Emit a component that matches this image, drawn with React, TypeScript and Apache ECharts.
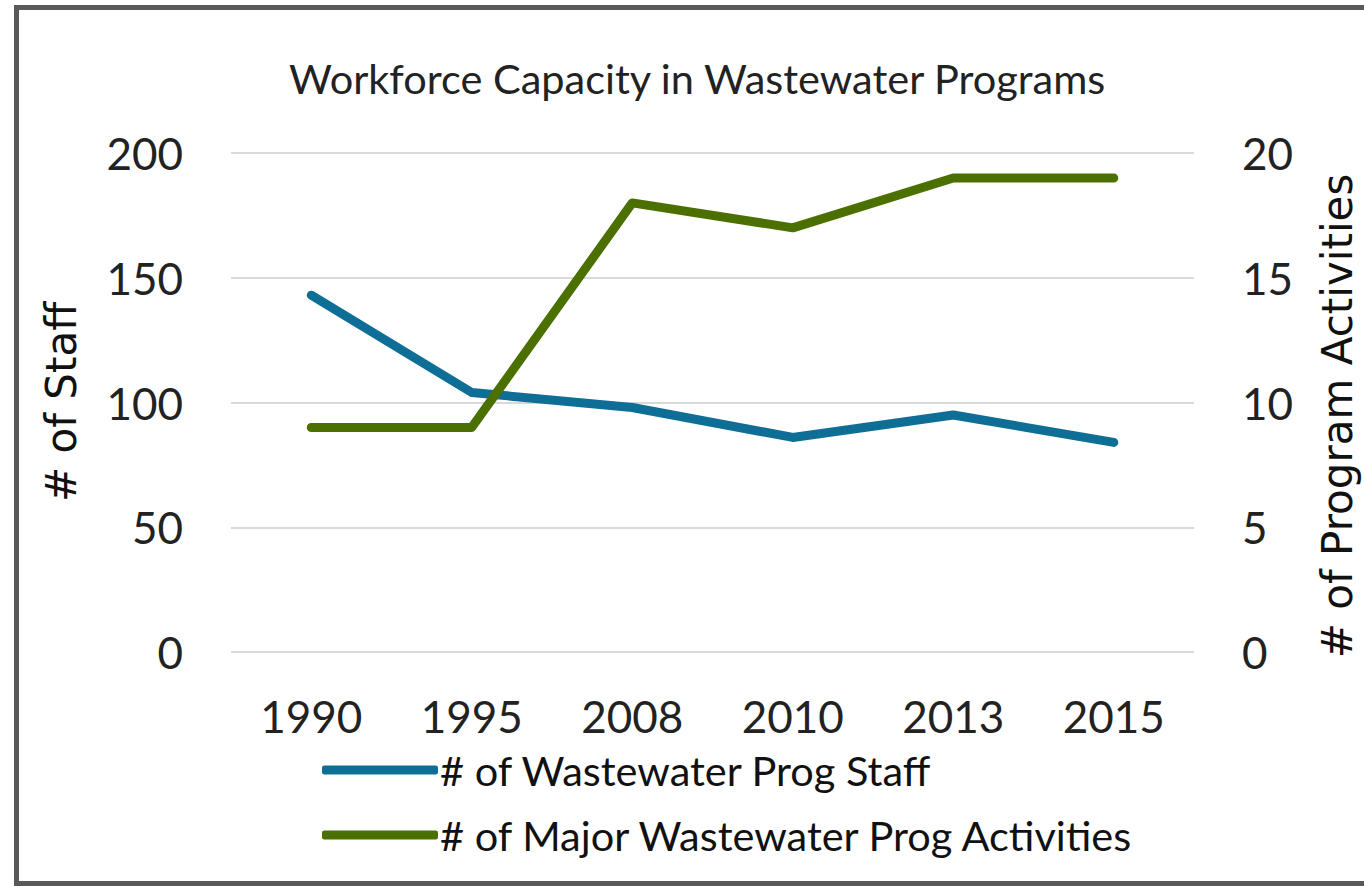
import React, { useEffect, useRef } from "react";
import * as echarts from "echarts";

const years = ["1990", "1995", "2008", "2010", "2013", "2015"];
const staff = [143, 104, 98, 86, 95, 84];
const activities = [9, 9, 18, 17, 19, 19];
const staffTicks = { min: 0, max: 200, interval: 50 };
const actTicks = { min: 0, max: 20, interval: 5 };
const leftAxisName = "# of Staff";
const rightAxisName = "# of Program Activities";
const seriesNames = ["# of Wastewater Prog Staff", "# of Major Wastewater Prog Activities"];

const FONT = "Lato";
const NAME_FONT = "DejaVu Sans";
const BLUE = "#0e6e96";
const GREEN = "#4b7000";

export default function App() {
  const ref = useRef<HTMLDivElement>(null);
  useEffect(() => {
    const chart = echarts.init(ref.current!, null, { renderer: "svg" });
    chart.setOption({
      animation: false,
      backgroundColor: "#ffffff",
      textStyle: { fontFamily: FONT },
      title: {
        text: "Workforce Capacity in Wastewater Programs",
        left: 284,
        top: 52,
        textStyle: { fontFamily: FONT, fontSize: 41.5, fontWeight: "normal", color: "#222" },
      },
      graphic: [
        {
          type: "rect",
          shape: { x: 16.5, y: 7.5, width: 1420, height: 876 },
          style: { fill: "none", stroke: "#595959", lineWidth: 5 },
          z: 100,
        },
        {
          type: "text",
          x: 61,
          y: 402,
          rotation: Math.PI / 2,
          style: {
            text: leftAxisName,
            fontFamily: NAME_FONT,
            fontSize: 42,
            fill: "#111",
            align: "center",
            verticalAlign: "middle",
          },
        },
        {
          type: "text",
          x: 1337,
          y: 416,
          rotation: Math.PI / 2,
          style: {
            text: rightAxisName,
            fontFamily: NAME_FONT,
            fontSize: 42,
            fill: "#111",
            align: "center",
            verticalAlign: "middle",
          },
        },
      ],
      grid: { left: 231, right: 170, top: 153, bottom: 234, containLabel: false },
      legend: {
        orient: "vertical",
        left: 317,
        top: 744,
        itemWidth: 116,
        itemHeight: 9,
        itemGap: 23,
        icon: "roundRect",
        textStyle: { fontFamily: FONT, fontSize: 41.5, color: "#111", padding: [0, 0, 0, -3] },
        data: seriesNames,
      },
      xAxis: {
        type: "category",
        data: years,
        boundaryGap: true,
        axisLine: { show: false },
        axisTick: { show: false },
        axisLabel: { fontFamily: FONT, fontSize: 44, color: "#222", margin: 42 },
      },
      yAxis: [
        {
          type: "value",
          min: staffTicks.min,
          max: staffTicks.max,
          interval: staffTicks.interval,
          axisLine: { show: false },
          axisTick: { show: false },
          axisLabel: { fontFamily: FONT, fontSize: 44, color: "#222", margin: 48 },
          splitLine: { lineStyle: { color: "#d9d9d9", width: 2 } },
        },
        {
          type: "value",
          position: "right",
          min: actTicks.min,
          max: actTicks.max,
          interval: actTicks.interval,
          axisLine: { show: false },
          axisTick: { show: false },
          axisLabel: { fontFamily: FONT, fontSize: 44, color: "#222", margin: 48 },
          splitLine: { show: false },
        },
      ],
      series: [
        {
          name: seriesNames[0],
          type: "line",
          data: staff,
          yAxisIndex: 0,
          symbol: "none",
          color: BLUE,
          lineStyle: { color: BLUE, width: 9, cap: "round", join: "round" },
          itemStyle: { color: BLUE },
        },
        {
          name: seriesNames[1],
          type: "line",
          data: activities,
          yAxisIndex: 1,
          symbol: "none",
          color: GREEN,
          lineStyle: { color: GREEN, width: 9, cap: "round", join: "round" },
          itemStyle: { color: GREEN },
        },
      ],
    });
    return () => chart.dispose();
  }, []);
  return (
    <div
      ref={ref}
      style={{ position: "fixed", left: 0, top: 0, width: 1364, height: 886 }}
    />
  );
}
